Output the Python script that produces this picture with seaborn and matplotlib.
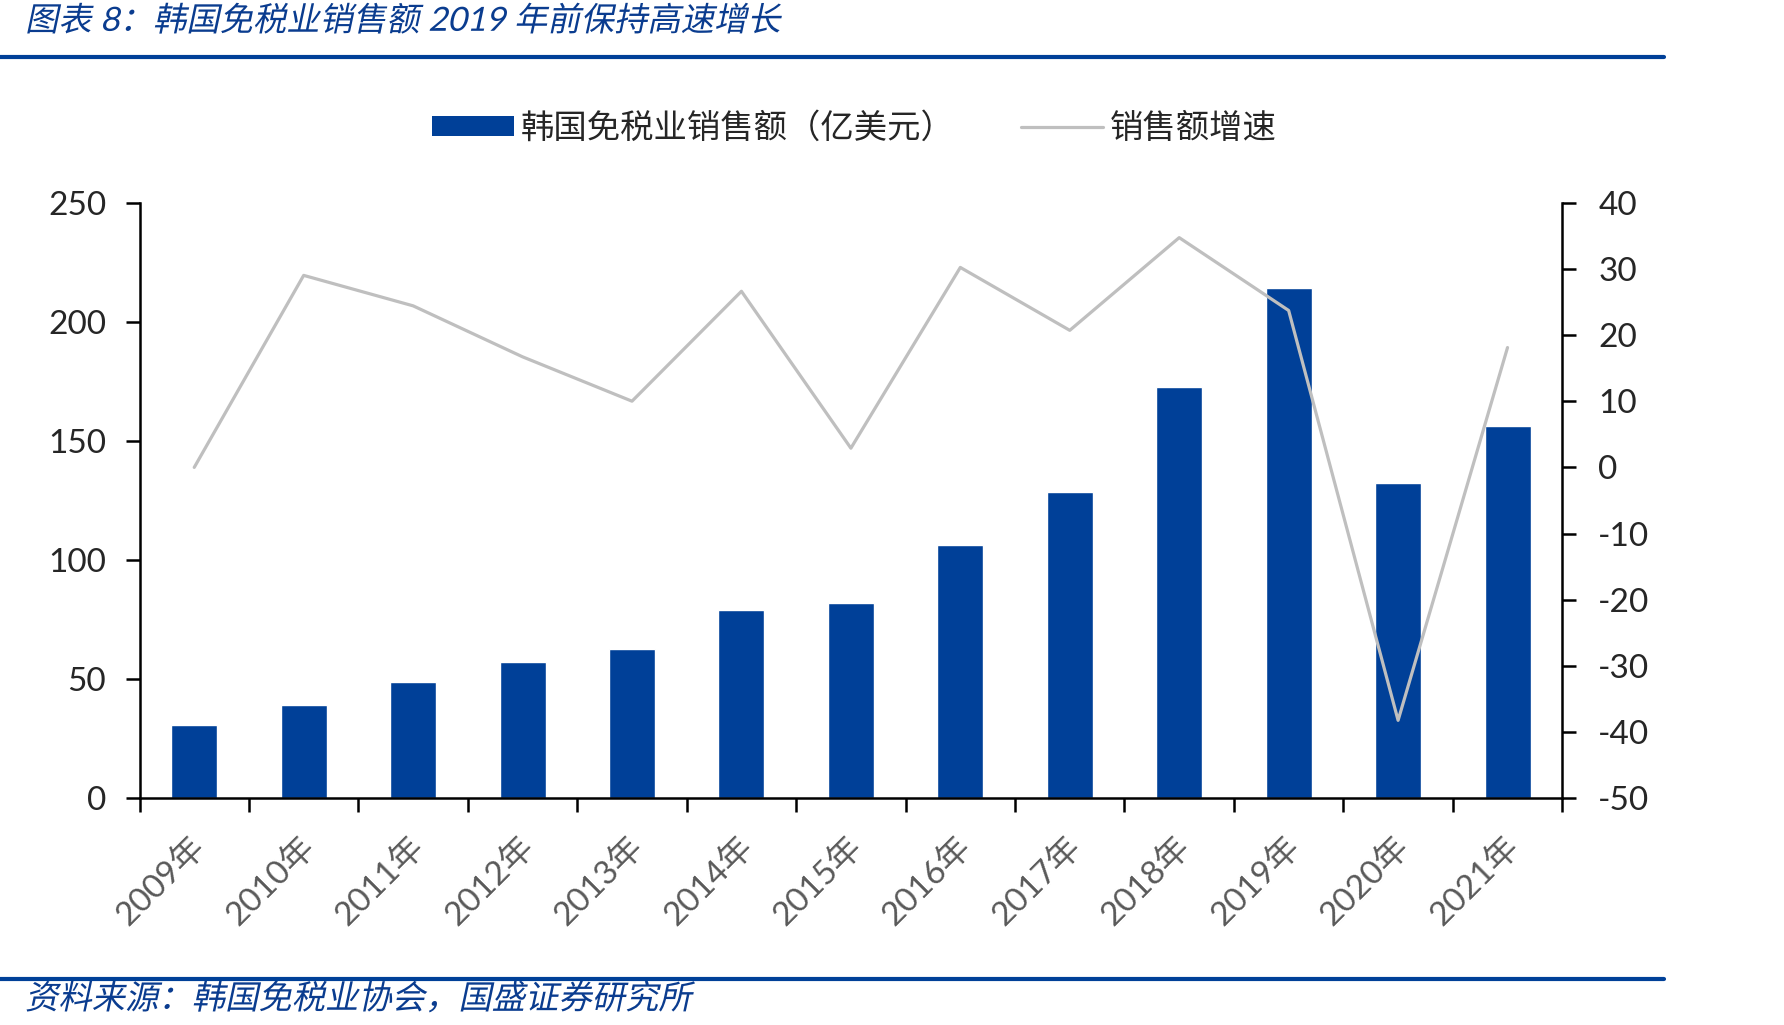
import numpy as np
import pandas as pd
import matplotlib
matplotlib.use("Agg")
import matplotlib.pyplot as plt
import seaborn as sns
from matplotlib.lines import Line2D
from matplotlib.patches import Patch
from matplotlib.patheffects import AbstractPathEffect
from matplotlib.transforms import Affine2D

# Data
years = ["2009年", "2010年", "2011年", "2012年", "2013年", "2014年", "2015年",
         "2016年", "2017年", "2018年", "2019年", "2020年", "2021年"]
sales = [30.7, 39.3, 48.9, 57.1, 62.9, 79.2, 82.1, 106.5, 128.6, 172.7, 214.0, 132.4, 156.4]
growth = [0.0, 29.0, 24.4, 16.7, 10.0, 26.6, 2.9, 30.2, 20.7, 34.7, 23.7, -38.2, 18.1]

title = "图表 8：韩国免税业销售额 2019 年前保持高速增长"
source = "资料来源：韩国免税业协会，国盛证券研究所"
bar_label = "韩国免税业销售额（亿美元）"
line_label = "销售额增速"

BLUE = "#004098"
TEXT_BLUE = "#0A3C8F"
GREY = "#BFBFBF"

sns.set_style("white")
plt.rcParams['font.family'] = ['Lato', 'Noto Sans CJK SC', 'DejaVu Sans']
plt.rcParams['axes.unicode_minus'] = False


class Slant(AbstractPathEffect):
    # fake italic for the CJK captions
    def draw_path(self, renderer, gc, tpath, affine, rgbFace=None):
        renderer.draw_path(gc, tpath, Affine2D().skew_deg(12, 0) + affine, rgbFace)


df = pd.DataFrame({"year": years, "sales": sales, "growth": growth,
                   "pos": np.arange(len(years))})

fig = plt.figure(figsize=(17.84, 10.25), dpi=100)
ax = fig.add_axes([0.0782, 0.221, 0.7975, 0.5814])

sns.barplot(data=df, x="year", y="sales", color=BLUE, saturation=1,
            width=0.42, ax=ax)
ax.set_xlim(-0.5, len(years) - 0.5)
ax.set_ylim(0, 250)
ax.set_yticks([0, 50, 100, 150, 200, 250])
ax.set_xlabel("")
ax.set_ylabel("")

ax2 = ax.twinx()
sns.lineplot(data=df, x="pos", y="growth", color=GREY, linewidth=2.3, ax=ax2)
ax2.set_ylim(-50, 40)
ax2.set_yticks(np.arange(-50, 41, 10))
ax2.set_xlim(-0.5, len(years) - 0.5)
ax2.set_xlabel("")
ax2.set_ylabel("")

for a in (ax, ax2):
    a.spines["top"].set_visible(False)
    for s in ("left", "right", "bottom"):
        a.spines[s].set_color("black")
        a.spines[s].set_linewidth(1.8)
ax.spines["right"].set_visible(False)
ax2.spines["left"].set_visible(False)
ax2.spines["bottom"].set_visible(False)

# x ticks: labels at bar centres, tick marks at category edges
ax.set_xticks(np.arange(len(years)))
ax.set_xticklabels(years, rotation=45, ha="right", va="top",
                   rotation_mode="anchor", color="#595959", fontsize=24)
ax.tick_params(axis="x", which="major", length=0, pad=23)
ax.set_xticks(np.arange(len(years) + 1) - 0.5, minor=True)
ax.tick_params(axis="x", which="minor", length=10, width=1.8, color="black",
               direction="out", bottom=True)
ax.tick_params(axis="y", length=10, width=1.8, color="black", labelsize=24,
               direction="out", left=True, pad=14)
ax2.tick_params(axis="y", length=10, width=1.8, color="black", labelsize=24,
                direction="out", right=True, pad=16)
for lab in ax.get_xticklabels():
    lab.set_transform(lab.get_transform() + Affine2D().translate(-5, 0))

handles = [Patch(facecolor=BLUE, edgecolor="none", label=bar_label),
           Line2D([], [], color=GREY, linewidth=2.3, label=line_label)]
fig.legend(handles=handles, loc="center", bbox_to_anchor=(0.479, 0.875),
           ncol=2, frameon=False, fontsize=24, handlelength=2.45,
           handleheight=0.55, handletextpad=0.2, columnspacing=2.0)

# header / footer
fig.add_artist(Line2D([0, 0.933], [1 - 57 / 1025] * 2, color=BLUE, linewidth=3))
fig.add_artist(Line2D([0, 0.933], [1 - 979 / 1025] * 2, color=BLUE, linewidth=3))
fig.text(0.014, 1 - 21 / 1025, title, color=TEXT_BLUE, fontsize=24,
         va="center", ha="left", path_effects=[Slant()])
fig.text(0.014, 1 - 999 / 1025, source, color=TEXT_BLUE, fontsize=24,
         va="center", ha="left", path_effects=[Slant()])

fig.savefig("out.png", dpi=100)
